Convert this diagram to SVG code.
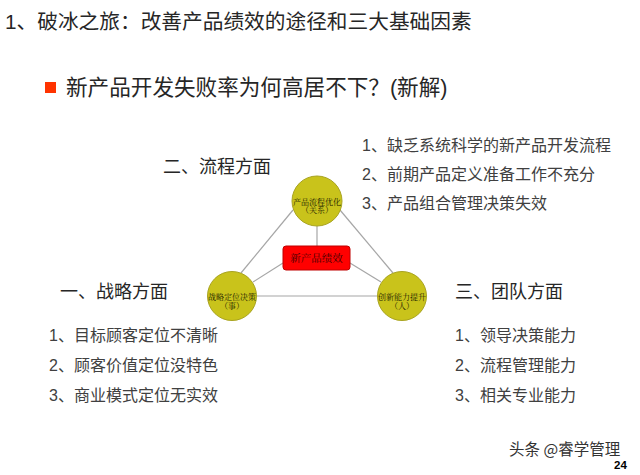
<svg xmlns="http://www.w3.org/2000/svg" width="640" height="475" viewBox="0 0 640 475">
<style>
.t{font-family:"Liberation Sans","Noto Sans CJK SC",sans-serif;fill:#262626}
.h{font-size:18px}
.l{font-size:16px;fill:#404040}
.c{font-family:"Liberation Serif","Noto Serif CJK SC","Noto Sans CJK SC",serif;font-size:8px;fill:#1a1a00;text-anchor:middle}
.node{fill:#c9c31b;stroke:#a8a320;stroke-width:1}
.conn line{stroke:#a6a6a6;stroke-width:1.2}
</style>
<rect width="640" height="475" fill="#ffffff"/>
<text class="t" x="5" y="29" font-size="20.7" fill="#111">1、破冰之旅：改善产品绩效的途径和三大基础因素</text>
<rect x="45" y="82" width="11" height="11" fill="#ff3300"/>
<text class="t" x="66" y="95" font-size="21.6" fill="#333">新产品开发失败率为何高居不下？(新解)</text>

<text class="t h" x="163" y="173">二、流程方面</text>
<text class="t l" x="362" y="151">1、缺乏系统科学的新产品开发流程</text>
<text class="t l" x="362" y="180">2、前期产品定义准备工作不充分</text>
<text class="t l" x="362" y="209">3、产品组合管理决策失效</text>

<text class="t h" x="60" y="298">一、战略方面</text>
<text class="t l" x="49" y="341">1、目标顾客定位不清晰</text>
<text class="t l" x="49" y="371">2、顾客价值定位没特色</text>
<text class="t l" x="49" y="401">3、商业模式定位无实效</text>

<text class="t h" x="455" y="298">三、团队方面</text>
<text class="t l" x="455" y="341">1、领导决策能力</text>
<text class="t l" x="455" y="371">2、流程管理能力</text>
<text class="t l" x="455" y="401">3、相关专业能力</text>

<g class="conn" id="connectors">
<line x1="293" y1="210" x2="241" y2="273"/>
<line x1="340" y1="210" x2="393" y2="273"/>
<line x1="256" y1="296" x2="377" y2="296"/>
<line x1="317" y1="226" x2="317" y2="246"/>
<line x1="253" y1="282" x2="283" y2="263"/>
<line x1="350" y1="263" x2="381" y2="282"/>
</g>

<g id="center">
<rect x="283" y="246" width="67" height="24" rx="3" fill="#ff0000" stroke="#c00000" stroke-width="1"/>
<text x="316.5" y="262" font-family="Liberation Serif,'Noto Serif CJK SC','Noto Sans CJK SC',serif" font-size="10.5" fill="#3a0000" text-anchor="middle">新产品绩效</text>
</g>
<g id="top">
<circle class="node" cx="317" cy="201" r="25"/>
<text class="c" x="317" y="204.5" font-size="6.8">产品流程优化</text>
<text class="c" x="317" y="212.5" font-size="6.8">（关系）</text>
</g>
<g id="left">
<circle class="node" cx="232" cy="296" r="24.5"/>
<text class="c" x="232" y="300">战略定位决策</text>
<text class="c" x="232" y="309">（事）</text>
</g>
<g id="right">
<circle class="node" cx="402" cy="296" r="24.5"/>
<text class="c" x="402" y="300" font-size="7.4">创新能力提升</text>
<text class="c" x="402" y="309" font-size="7.4">（人）</text>
</g>

<text x="509" y="455" font-family="'Noto Sans CJK SC',sans-serif" font-size="15.5" fill="#333" stroke="#fff" stroke-width="0.6" paint-order="stroke">头条 @睿学管理</text>
<text x="614" y="469" font-family="'Liberation Sans',sans-serif" font-size="11.5" font-weight="bold" fill="#000">24</text>
</svg>
